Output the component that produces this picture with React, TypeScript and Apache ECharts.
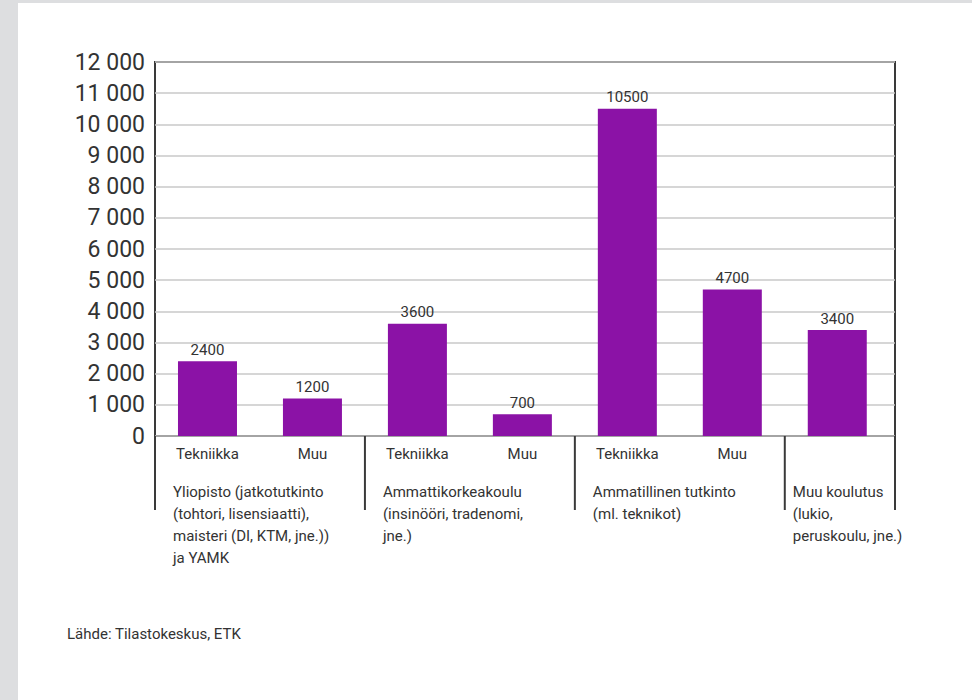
import React, { useEffect, useRef } from "react";
import * as echarts from "echarts";

const categoryLabels: string[] = ["Tekniikka", "Muu", "Tekniikka", "Muu", "Tekniikka", "Muu", ""];
const values: number[] = [2400, 1200, 3600, 700, 10500, 4700, 3400];
const groupNames: string[] = [
  "Yliopisto (jatkotutkinto\n(tohtori, lisensiaatti),\nmaisteri (DI, KTM, jne.))\nja YAMK",
  "Ammattikorkeakoulu\n(insinööri, tradenomi,\njne.)",
  "Ammatillinen tutkinto\n(ml. teknikot)",
  "Muu koulutus\n(lukio,\nperuskoulu, jne.)",
];
const groupSizes: number[] = [2, 2, 2, 1];
const yTicks: number[] = [0, 1000, 2000, 3000, 4000, 5000, 6000, 7000, 8000, 9000, 10000, 11000, 12000];
const sourceText = "Lähde: Tilastokeskus, ETK";

const X_MAX = 7.05;
const FONT = "Roboto, 'DejaVu Sans', sans-serif";
const TEXT = "#333333";

export default function App() {
  const ref = useRef<HTMLDivElement>(null);

  useEffect(() => {
    document.body.style.margin = "0";
    if (!ref.current) return;
    const chart = echarts.init(ref.current, undefined, { renderer: "svg" });

    const barData = values.map((v, i) => [i + 0.5, v]);
    const starts: number[] = [];
    let acc = 0;
    groupSizes.forEach((s) => {
      starts.push(acc);
      acc += s;
    });
    const sepData: number[][] = starts.map((s, i) => [s, i]);
    sepData.push([X_MAX, -1]);

    const fmt = (v: number) => {
      const s = String(v);
      return s.length > 3 ? s.slice(0, s.length - 3) + " " + s.slice(s.length - 3) : s;
    };

    chart.setOption({
      animation: false,
      backgroundColor: "#ffffff",
      grid: {
        left: 137,
        top: 59,
        width: 740,
        height: 374,
        show: true,
        borderColor: "#3a3a3a",
        borderWidth: 2,
        backgroundColor: "transparent",
        containLabel: false,
      },
      xAxis: {
        type: "value",
        min: 0,
        max: X_MAX,
        axisLine: { show: false },
        axisTick: { show: false },
        axisLabel: { show: false },
        splitLine: { show: false },
      },
      yAxis: {
        type: "value",
        min: yTicks[0],
        max: yTicks[yTicks.length - 1],
        interval: yTicks[1] - yTicks[0],
        axisLine: { show: false },
        axisTick: { show: false },
        axisLabel: {
          formatter: (v: number) => fmt(v),
          color: TEXT,
          fontSize: 23,
          fontFamily: FONT,
          margin: 10,
        },
        splitLine: { show: true, lineStyle: { color: "#c9c9c9", width: 1.5 } },
      },
      series: [
        {
          type: "bar",
          data: barData,
          barWidth: 59,
          itemStyle: { color: "#8b12a6" },
          label: {
            show: true,
            position: "top",
            distance: 4,
            color: TEXT,
            fontSize: 15,
            fontFamily: FONT,
            formatter: (p: any) => String(p.value[1]),
          },
        },
        {
          type: "custom",
          clip: false,
          silent: true,
          data: sepData,
          z: 5,
          renderItem: (params: any, api: any) => {
            const x0 = api.value(0);
            const gi = api.value(1);
            const p = api.coord([x0, 0]);
            const children: any[] = [
              {
                type: "line",
                shape: { x1: p[0], y1: p[1], x2: p[0], y2: p[1] + 74 },
                style: { stroke: "#3a3a3a", lineWidth: 2 },
              },
            ];
            if (gi >= 0) {
              children.push({
                type: "text",
                x: p[0] + (groupSizes[gi] === 1 ? 8 : 18),
                y: p[1] + 45,
                style: {
                  text: groupNames[gi],
                  fill: TEXT,
                  fontSize: 15,
                  fontFamily: FONT,
                  lineHeight: 22,
                  align: "left",
                  verticalAlign: "top",
                },
              });
              for (let k = 0; k < groupSizes[gi]; k++) {
                const idx = starts[gi] + k;
                const lbl = categoryLabels[idx];
                if (!lbl) continue;
                const c = api.coord([idx + 0.5, 0]);
                children.push({
                  type: "text",
                  x: c[0],
                  y: c[1] + 18,
                  style: {
                    text: lbl,
                    fill: TEXT,
                    fontSize: 15,
                    fontFamily: FONT,
                    align: "center",
                    verticalAlign: "middle",
                  },
                });
              }
            }
            return { type: "group", children };
          },
        },
      ],
      graphic: [
        {
          type: "text",
          left: 49,
          top: 623,
          style: {
            text: sourceText,
            fill: TEXT,
            fontSize: 15,
            fontFamily: FONT,
          },
        },
      ],
    });

    return () => chart.dispose();
  }, []);

  return (
    <div
      style={{
        position: "absolute",
        left: 0,
        top: 0,
        width: 972,
        height: 700,
        background: "#dddee0",
        overflow: "hidden",
      }}
    >
      <div
        ref={ref}
        style={{
          position: "absolute",
          left: 18,
          top: 3,
          width: 954,
          height: 697,
          background: "#ffffff",
        }}
      />
    </div>
  );
}
